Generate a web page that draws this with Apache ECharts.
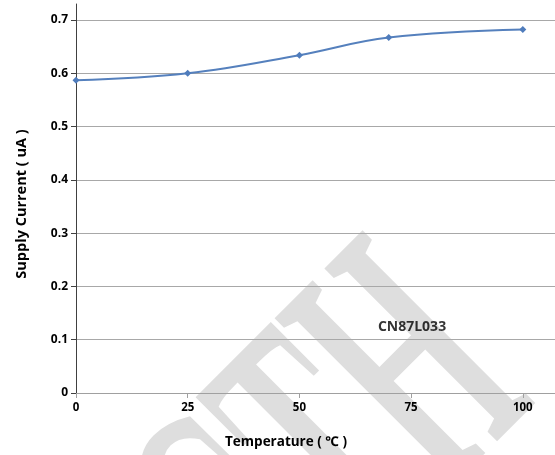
<!DOCTYPE html>
<html>
<head>
<meta charset="utf-8">
<script src="https://cdn.jsdelivr.net/npm/echarts@6/dist/echarts.min.js"></script>
<style>
  html, body { margin: 0; padding: 0; background: #fff; }
  #chart { width: 555px; height: 455px; }
</style>
</head>
<body>
<div id="chart"></div>
<script>
// Supply current vs. temperature
const temperatures = [0, 25, 50, 70, 100];
const supplyCurrent = [0.587, 0.600, 0.634, 0.667, 0.682];
const xTicks = [0, 25, 50, 75, 100];
const yTicks = [0, 0.1, 0.2, 0.3, 0.4, 0.5, 0.6, 0.7];
const partName = 'CN87L033';
const partLabelAt = [75.2, 0.124];

const font = '"Open Sans", "Noto Sans", sans-serif';
const chart = echarts.init(document.getElementById('chart'));

chart.setOption({
  animation: false,
  backgroundColor: '#ffffff',
  grid: { left: 76, right: 0, top: 4, bottom: 62, containLabel: false },
  graphic: [
    {
      // faint condensed serif mark behind the plot
      type: 'text',
      z: -10,
      x: 213, y: 589,
      rotation: Math.PI / 4,
      scaleX: 0.448,
      scaleY: 1,
      style: {
        text: 'CTH',
        font: 'bold 373px "Liberation Serif", serif',
        fill: '#dedede',
        align: 'left',
        verticalAlign: 'middle'
      },
      silent: true
    }
  ],
  xAxis: {
    type: 'value',
    min: 0,
    max: 107.2,
    interval: 25,
    name: 'Temperature ( ℃ )',
    nameLocation: 'middle',
    nameGap: 42,
    nameTextStyle: { fontFamily: font, fontWeight: 'bold', fontSize: 13.5, color: '#000', padding: [0, 59, 0, 0] },
    axisLine: { show: true, lineStyle: { color: '#a0a0a0', width: 1 } },
    axisTick: { show: true, length: 5, lineStyle: { color: '#a0a0a0' } },
    axisLabel: {
      showMaxLabel: false,
      margin: 9,
      fontFamily: font, fontWeight: 'bold', fontSize: 11.5, color: '#000',
      formatter: v => (xTicks.includes(v) ? String(v) : '')
    },
    splitLine: { show: false }
  },
  yAxis: {
    type: 'value',
    min: 0,
    max: 0.73,
    interval: 0.1,
    name: 'Supply Current ( uA )',
    nameLocation: 'middle',
    nameGap: 47,
    nameTextStyle: { fontFamily: font, fontWeight: 'bold', fontSize: 14.5, color: '#000', padding: [0, 11, 0, 0] },
    axisLine: { show: true, lineStyle: { color: '#404040', width: 1 } },
    axisTick: { show: true, length: 5, lineStyle: { color: '#404040' } },
    axisLabel: {
      showMaxLabel: false,
      margin: 8,
      fontFamily: font, fontWeight: 'bold', fontSize: 12, color: '#000',
      formatter: v => {
        const t = yTicks.find(y => Math.abs(y - v) < 1e-6);
        return t === undefined ? '' : (t === 0 ? '0' : t.toFixed(1));
      }
    },
    splitLine: { show: true, showMaxLine: false, lineStyle: { color: '#a8a8a8', width: 1 } }
  },
  series: [
    {
      type: 'line',
      data: temperatures.map((t, i) => [t, supplyCurrent[i]]),
      smooth: 0.4,
      symbol: 'diamond',
      symbolSize: 7,
      lineStyle: { color: '#5580bd', width: 2 },
      itemStyle: { color: '#4f7cbc' },
      z: 5
    },
    {
      type: 'scatter',
      data: [partLabelAt],
      symbolSize: 0,
      silent: true,
      label: {
        show: true,
        position: 'inside',
        formatter: partName,
        fontFamily: font, fontWeight: 'bold', fontSize: 14, color: '#000',
        textBorderWidth: 0
      }
    }
  ]
});
</script>
</body>
</html>
